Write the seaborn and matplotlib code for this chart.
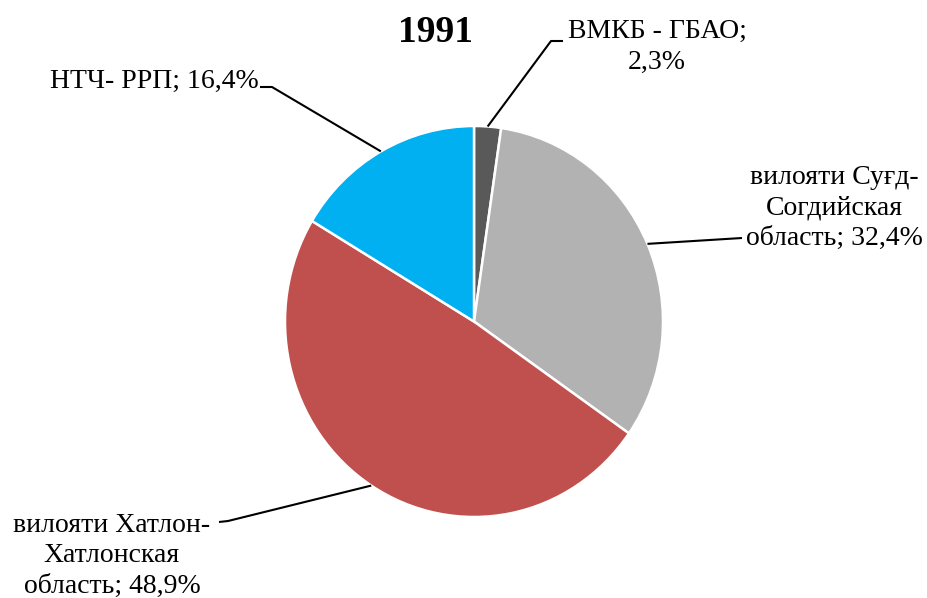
import numpy as np
import matplotlib
matplotlib.use("Agg")
import matplotlib.pyplot as plt
import seaborn as sns

title = "1991"
categories = ["ВМКБ - ГБАО", "вилояти Суғд-\nСогдийская\nобласть", "вилояти Хатлон-\nХатлонская\nобласть", "НТЧ- РРП"]
values = [2.3, 32.4, 48.9, 16.4]
colors = ["#595959", "#b2b2b2", "#c0504d", "#00b0f0"]

sns.set_theme(style="white")
plt.rcParams['font.family'] = ['Liberation Serif', 'DejaVu Serif']

W, H = 928, 598
fig = plt.figure(figsize=(W / 100, H / 100), dpi=100)

# pie geometry in pixels (from top-left)
PCX, PCY, RX, RY = 474, 321.5, 189, 195.5
axp = fig.add_axes([(PCX - RX) / W, (H - PCY - RY) / H, 2 * RX / W, 2 * RY / H])
wedges, _ = axp.pie(values, colors=colors, startangle=90, counterclock=False,
                    radius=1, wedgeprops=dict(edgecolor="white", linewidth=1.8))
axp.set_xlim(-1, 1)
axp.set_ylim(-1, 1)
axp.set_aspect("auto")
axp.axis("off")

ax = fig.add_axes([0, 0, 1, 1])
ax.set_xlim(0, W)
ax.set_ylim(0, H)
ax.axis("off")
ax.patch.set_alpha(0)

def P(x, y):
    return x, H - y

def edge_pt(w):
    a = np.deg2rad((w.theta1 + w.theta2) / 2)
    return P(PCX + RX * np.cos(a), PCY - RY * np.sin(a))

fs = 20
labels = [f"{c}; {str(v).replace('.', ',')}%" for c, v in zip(categories, values)]
labels[0] = f"{categories[0]};\n{str(values[0]).replace('.', ',')}%"

text_pos = [P(657, 47), P(834, 208), P(112, 556), P(154, 81)]
elbows = [[P(551, 41), P(563, 41)],
          [P(742, 238)],
          [P(228, 521), P(219, 522)],
          [P(272, 87), P(260, 87)]]

for w, lab, tp, el in zip(wedges, labels, text_pos, elbows):
    ax.text(tp[0], tp[1], lab, ha="center", va="center", multialignment="center",
            fontsize=fs, linespacing=1.28, color="black")
    ex, ey = edge_pt(w)
    xs = [ex] + [p[0] for p in el]
    ys = [ey] + [p[1] for p in el]
    ax.plot(xs, ys, color="black", lw=1.5, solid_capstyle="butt")

tx, ty = P(436, 33)
ax.text(tx, ty, title, ha="center", va="center", fontsize=27, fontweight="bold", color="black")

fig.savefig("out.png", dpi=100)
